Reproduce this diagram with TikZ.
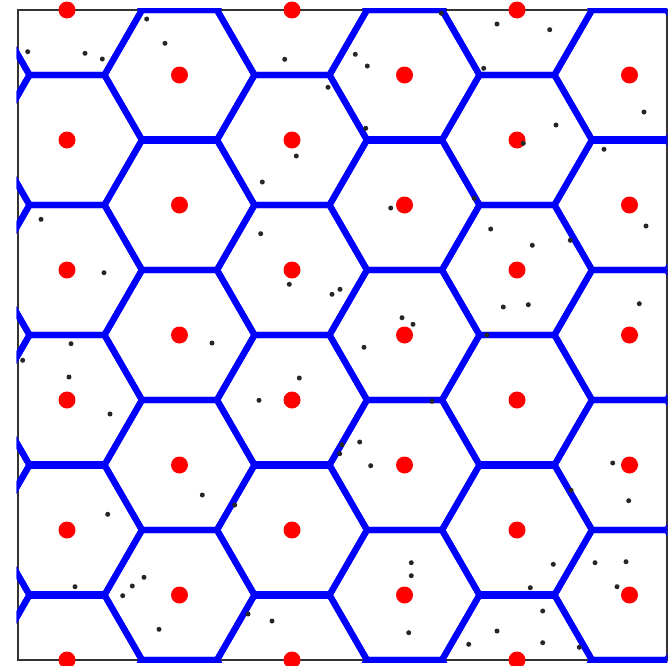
\documentclass[tikz,border=0pt]{standalone}
\begin{document}
\begin{tikzpicture}[x=0.03cm,y=-0.03cm,
  hexedge/.style={draw=blue, line width=5.3pt, line join=miter},
  thickedge/.style={draw=blue, line width=7.3pt},
  frameline/.style={draw=black!80, line width=1.7pt},
  site/.style={fill=red},
  sample/.style={fill=black!85}]
\useasboundingbox (0,0) rectangle (669,665);
\fill[white] (0,0) rectangle (669,665);
\draw[frameline] (18,10) rectangle (667,660);
\begin{scope}
  \clip (16.5,8) rectangle (667,662);
  \foreach \i in {-1,...,6} {
    \foreach \j in {-1,...,6} {
      \pgfmathsetmacro{\cx}{67+112.5*\i}
      \pgfmathsetmacro{\cy}{10+130*\j+65*mod(\i+2,2)}
      \draw[hexedge] (\cx+75,\cy) -- (\cx+37.5,\cy-65) -- (\cx-37.5,\cy-65)
        -- (\cx-75,\cy) -- (\cx-37.5,\cy+65) -- (\cx+37.5,\cy+65) -- cycle;
    }
  }
  % slightly heavier horizontal edges
  \foreach \x in {179.5,404.5,629.5} \draw[thickedge] (\x-37.5,140) -- (\x+37.5,140);
  \foreach \x in {67,292,517} {
    \draw[thickedge] (\x-37.5,465) -- (\x+37.5,465);
    \draw[thickedge] (\x-37.5,595) -- (\x+37.5,595);
  }
\end{scope}
% red sites
\foreach \x in {67,292,517} \foreach \y in {10,140,270,400,530,660} \fill[site] (\x,\y) circle[radius=8.5];
\foreach \x in {179.5,404.5,629.5} \foreach \y in {75,205,335,465,595} \fill[site] (\x,\y) circle[radius=8.5];
% black samples
\foreach \p in {(146.7,19), (165,43.3), (27.7,51.7), (85,53.3), (102.3,59),
  (284.7,59.3), (355.3,54.3), (367.3,66), (328,87.3), (365.7,128.3), (296.3,156), (441.3,13.3),
  (497,24), (549.7,29.7), (483.7,68.3), (644,112), (556,125), (523.3,143.3), (604,149.3),
  (41,219.3), (104,272.7),
  (262.3,182), (390.7,208), (260.7,233.7), (289.3,284.3), (332,294.3), (340,289.3), (402,317.7), (413,324.3),
  (474.3,198.3), (646,226), (490.7,229), (532.3,245.3), (570.3,240.3), (503.3,307), (528.3,304.7), (639.3,303.7), (486.7,335),
  (71,343.7), (22.7,360.3), (69,377), (110,414), (212,343), (202.3,495),
  (364,347.3), (299.3,378), (259,400.3), (432,401.3), (359.7,442), (342,444.7), (339.7,453.7), (370.7,465.7),
  (612.7,463), (571,490.3), (628.7,500.7),
  (107.7,514.3), (75,586.7), (144,577.3), (132.3,586), (122.7,595.7), (159,629.3),
  (234.7,505), (411.3,562.7), (411.3,575.7), (248,614), (272,621), (408.7,632.7),
  (553.3,564.3), (595,562.7), (626,561.7), (617,586.7), (530.3,587.7), (542.7,611), (497,631), (468.7,644.3), (542.7,642.7), (579.3,647.3)}
  \fill[sample] \p circle[radius=2.5];
\end{tikzpicture}
\end{document}
